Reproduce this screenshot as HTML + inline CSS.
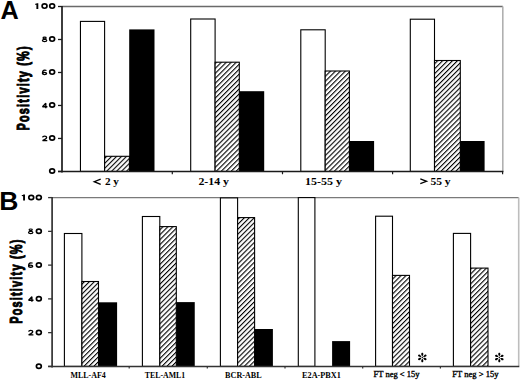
<!DOCTYPE html>
<html><head><meta charset="utf-8"><style>
html,body{margin:0;padding:0;background:#fff;width:520px;height:380px;overflow:hidden;}
svg{display:block;}
</style></head><body>
<svg width="520" height="380" viewBox="0 0 520 380">
<defs><pattern id="hA0" patternUnits="userSpaceOnUse" width="3.5" height="3.5" patternTransform="translate(-0.01,0) rotate(45)"><rect width="3.5" height="3.5" fill="#fff"/><rect x="0" y="0" width="1.1" height="3.5" fill="#000"/></pattern><pattern id="hA1" patternUnits="userSpaceOnUse" width="3.5" height="3.5" patternTransform="translate(0.7,0) rotate(45)"><rect width="3.5" height="3.5" fill="#fff"/><rect x="0" y="0" width="1.1" height="3.5" fill="#000"/></pattern><pattern id="hA2" patternUnits="userSpaceOnUse" width="3.5" height="3.5" patternTransform="translate(-0.1,0) rotate(45)"><rect width="3.5" height="3.5" fill="#fff"/><rect x="0" y="0" width="1.1" height="3.5" fill="#000"/></pattern><pattern id="hA3" patternUnits="userSpaceOnUse" width="3.5" height="3.5" patternTransform="translate(2.62,0) rotate(45)"><rect width="3.5" height="3.5" fill="#fff"/><rect x="0" y="0" width="1.1" height="3.5" fill="#000"/></pattern><pattern id="hB0" patternUnits="userSpaceOnUse" width="3.5" height="3.5" patternTransform="translate(4.02,0) rotate(45)"><rect width="3.5" height="3.5" fill="#fff"/><rect x="0" y="0" width="1.1" height="3.5" fill="#000"/></pattern><pattern id="hB1" patternUnits="userSpaceOnUse" width="3.5" height="3.5" patternTransform="translate(2.82,0) rotate(45)"><rect width="3.5" height="3.5" fill="#fff"/><rect x="0" y="0" width="1.1" height="3.5" fill="#000"/></pattern><pattern id="hB2" patternUnits="userSpaceOnUse" width="3.5" height="3.5" patternTransform="translate(1.02,0) rotate(45)"><rect width="3.5" height="3.5" fill="#fff"/><rect x="0" y="0" width="1.1" height="3.5" fill="#000"/></pattern><pattern id="hB4" patternUnits="userSpaceOnUse" width="3.5" height="3.5" patternTransform="translate(2.67,0) rotate(45)"><rect width="3.5" height="3.5" fill="#fff"/><rect x="0" y="0" width="1.1" height="3.5" fill="#000"/></pattern><pattern id="hB5" patternUnits="userSpaceOnUse" width="3.5" height="3.5" patternTransform="translate(1.37,0) rotate(45)"><rect width="3.5" height="3.5" fill="#fff"/><rect x="0" y="0" width="1.1" height="3.5" fill="#000"/></pattern></defs>
<rect width="520" height="380" fill="#fff"/>
<line x1="62" y1="6.5" x2="502.8" y2="6.5" stroke="#6a6a6a" stroke-width="1.3"/>
<line x1="502.8" y1="6.5" x2="502.8" y2="171.45" stroke="#b0b0b0" stroke-width="1.6"/>
<rect x="80.45" y="21.4" width="24.15" height="150.05" fill="#fff" stroke="#000" stroke-width="1.1"/>
<rect x="104.6" y="156.3" width="24.8" height="15.15" fill="url(#hA0)" stroke="#000" stroke-width="1.1"/>
<rect x="129.2" y="29.4" width="25.3" height="142.55" fill="#000"/>
<rect x="190.7" y="19" width="24.4" height="152.45" fill="#fff" stroke="#000" stroke-width="1.1"/>
<rect x="215.1" y="62.2" width="24.2" height="109.25" fill="url(#hA1)" stroke="#000" stroke-width="1.1"/>
<rect x="239.2" y="91.2" width="25" height="80.75" fill="#000"/>
<rect x="300.8" y="29.8" width="24.4" height="141.65" fill="#fff" stroke="#000" stroke-width="1.1"/>
<rect x="325.2" y="71" width="24.2" height="100.45" fill="url(#hA2)" stroke="#000" stroke-width="1.1"/>
<rect x="349.2" y="141" width="24.9" height="30.95" fill="#000"/>
<rect x="410.3" y="19.2" width="24.2" height="152.25" fill="#fff" stroke="#000" stroke-width="1.1"/>
<rect x="434.5" y="60.5" width="25.8" height="110.95" fill="url(#hA3)" stroke="#000" stroke-width="1.1"/>
<rect x="460.1" y="141" width="24.5" height="30.95" fill="#000"/>
<line x1="62" y1="5.9" x2="62" y2="172.45" stroke="#1a1a1a" stroke-width="1.7"/>
<line x1="58" y1="171.45" x2="503.4" y2="171.45" stroke="#1a1a1a" stroke-width="1.5"/>
<line x1="58" y1="171.45" x2="62" y2="171.45" stroke="#1a1a1a" stroke-width="1.3"/>
<line x1="58" y1="138.46" x2="62" y2="138.46" stroke="#1a1a1a" stroke-width="1.3"/>
<line x1="58" y1="105.47" x2="62" y2="105.47" stroke="#1a1a1a" stroke-width="1.3"/>
<line x1="58" y1="72.48" x2="62" y2="72.48" stroke="#1a1a1a" stroke-width="1.3"/>
<line x1="58" y1="39.49" x2="62" y2="39.49" stroke="#1a1a1a" stroke-width="1.3"/>
<line x1="58" y1="6.5" x2="62" y2="6.5" stroke="#1a1a1a" stroke-width="1.3"/>
<line x1="172.3" y1="171.45" x2="172.3" y2="174.25" stroke="#1a1a1a" stroke-width="1.2"/>
<line x1="282.5" y1="171.45" x2="282.5" y2="174.25" stroke="#1a1a1a" stroke-width="1.2"/>
<line x1="392.6" y1="171.45" x2="392.6" y2="174.25" stroke="#1a1a1a" stroke-width="1.2"/>
<line x1="502.6" y1="171.45" x2="502.6" y2="174.25" stroke="#1a1a1a" stroke-width="1.2"/>
<ellipse cx="52.15" cy="171.05" rx="2.45" ry="2.15" fill="none" stroke="#000" stroke-width="1.7"/>
<ellipse cx="52.15" cy="138.06" rx="2.45" ry="2.15" fill="none" stroke="#000" stroke-width="1.7"/>
<g transform="translate(41.8,135.41)" fill="none" stroke="#000" stroke-width="1.35"><path d="M0.75,2.0 C0.9,1.1 1.7,0.67 2.8,0.67 C4.0,0.67 4.85,1.2 4.85,2.0 C4.85,2.9 4.0,3.4 3.0,4.0 L0.75,5.15 H5.5" stroke-linejoin="miter"/></g>
<ellipse cx="52.15" cy="105.07" rx="2.45" ry="2.15" fill="none" stroke="#000" stroke-width="1.7"/>
<g transform="translate(41.8,102.42)" fill="none" stroke="#000" stroke-width="1.35"><path d="M4.0,5.8 V0.9 L0.7,4.35 H5.6" stroke-linejoin="miter" stroke-miterlimit="1.5"/></g>
<ellipse cx="52.15" cy="72.08" rx="2.45" ry="2.15" fill="none" stroke="#000" stroke-width="1.7"/>
<g transform="translate(41.8,69.43)" fill="none" stroke="#000" stroke-width="1.35"><ellipse cx="2.75" cy="4.0" rx="2.05" ry="1.12"/><path d="M4.7,1.1 C4.1,0.7 3.4,0.62 2.8,0.68 C1.4,0.8 0.7,2.2 0.7,4.0"/></g>
<ellipse cx="52.15" cy="39.09" rx="2.45" ry="2.15" fill="none" stroke="#000" stroke-width="1.7"/>
<g transform="translate(41.8,36.44)" fill="none" stroke="#000" stroke-width="1.35"><g stroke-width="1.2"><ellipse cx="2.8" cy="1.45" rx="1.6" ry="0.85"/><ellipse cx="2.8" cy="4.05" rx="2.2" ry="1.15"/></g></g>
<ellipse cx="52.15" cy="6.1" rx="2.45" ry="2.15" fill="none" stroke="#000" stroke-width="1.7"/>
<ellipse cx="44.55" cy="6.1" rx="2.45" ry="2.15" fill="none" stroke="#000" stroke-width="1.7"/>
<path d="M36.4,3.2 H38.3 V9 H36.4 Z M35.1,3.7 L36.5,3.2 L36.5,4.8 L35.1,4.7 Z" fill="#000"/>
<line x1="52.1" y1="197.6" x2="518.7" y2="197.6" stroke="#7a7a7a" stroke-width="1.3"/>
<line x1="518.7" y1="197.6" x2="518.7" y2="366.4" stroke="#bdbdbd" stroke-width="1.6"/>
<rect x="64.4" y="233.5" width="17.5" height="132.9" fill="#fff" stroke="#000" stroke-width="1.1"/>
<rect x="81.9" y="281.5" width="16.6" height="84.9" fill="url(#hB0)" stroke="#000" stroke-width="1.1"/>
<rect x="98.4" y="302.3" width="18.7" height="64.6" fill="#000"/>
<rect x="142.4" y="216.5" width="17.4" height="149.9" fill="#fff" stroke="#000" stroke-width="1.1"/>
<rect x="159.8" y="226.6" width="16.5" height="139.8" fill="url(#hB1)" stroke="#000" stroke-width="1.1"/>
<rect x="176.3" y="302.1" width="18.45" height="64.8" fill="#000"/>
<rect x="220.4" y="197.9" width="17.2" height="168.5" fill="#fff" stroke="#000" stroke-width="1.1"/>
<rect x="237.6" y="217.6" width="17" height="148.8" fill="url(#hB2)" stroke="#000" stroke-width="1.1"/>
<rect x="254.5" y="329" width="18.4" height="37.9" fill="#000"/>
<rect x="298.3" y="197.6" width="16.6" height="168.8" fill="#fff" stroke="#000" stroke-width="1.1"/>
<rect x="332.1" y="341.1" width="18" height="25.8" fill="#000"/>
<rect x="375.6" y="216.2" width="16.9" height="150.2" fill="#fff" stroke="#000" stroke-width="1.1"/>
<rect x="392.5" y="275.4" width="17" height="91" fill="url(#hB4)" stroke="#000" stroke-width="1.1"/>
<rect x="453.4" y="233.4" width="17.2" height="133" fill="#fff" stroke="#000" stroke-width="1.1"/>
<rect x="470.6" y="268.1" width="17.4" height="98.3" fill="url(#hB5)" stroke="#000" stroke-width="1.1"/>
<line x1="52.1" y1="197" x2="52.1" y2="367.4" stroke="#333" stroke-width="1.7"/>
<line x1="48.1" y1="366.4" x2="519.3" y2="366.4" stroke="#333" stroke-width="1.5"/>
<line x1="48.1" y1="366.4" x2="52.1" y2="366.4" stroke="#333" stroke-width="1.3"/>
<line x1="48.1" y1="332.64" x2="52.1" y2="332.64" stroke="#333" stroke-width="1.3"/>
<line x1="48.1" y1="298.88" x2="52.1" y2="298.88" stroke="#333" stroke-width="1.3"/>
<line x1="48.1" y1="265.12" x2="52.1" y2="265.12" stroke="#333" stroke-width="1.3"/>
<line x1="48.1" y1="231.36" x2="52.1" y2="231.36" stroke="#333" stroke-width="1.3"/>
<line x1="48.1" y1="197.6" x2="52.1" y2="197.6" stroke="#333" stroke-width="1.3"/>
<line x1="129.2" y1="366.4" x2="129.2" y2="368.6" stroke="#333" stroke-width="1.2"/>
<line x1="207.3" y1="366.4" x2="207.3" y2="368.6" stroke="#333" stroke-width="1.2"/>
<line x1="285" y1="366.4" x2="285" y2="368.6" stroke="#333" stroke-width="1.2"/>
<line x1="362.7" y1="366.4" x2="362.7" y2="368.6" stroke="#333" stroke-width="1.2"/>
<line x1="440.4" y1="366.4" x2="440.4" y2="368.6" stroke="#333" stroke-width="1.2"/>
<ellipse cx="38.85" cy="366.3" rx="2.45" ry="2.15" fill="none" stroke="#000" stroke-width="1.7"/>
<ellipse cx="38.85" cy="332.54" rx="2.45" ry="2.15" fill="none" stroke="#000" stroke-width="1.7"/>
<g transform="translate(27.9,329.69)" fill="none" stroke="#000" stroke-width="1.35"><path d="M0.75,2.0 C0.9,1.1 1.7,0.67 2.8,0.67 C4.0,0.67 4.85,1.2 4.85,2.0 C4.85,2.9 4.0,3.4 3.0,4.0 L0.75,5.15 H5.5" stroke-linejoin="miter"/></g>
<ellipse cx="38.85" cy="298.78" rx="2.45" ry="2.15" fill="none" stroke="#000" stroke-width="1.7"/>
<g transform="translate(27.9,295.93)" fill="none" stroke="#000" stroke-width="1.35"><path d="M4.0,5.8 V0.9 L0.7,4.35 H5.6" stroke-linejoin="miter" stroke-miterlimit="1.5"/></g>
<ellipse cx="38.85" cy="265.02" rx="2.45" ry="2.15" fill="none" stroke="#000" stroke-width="1.7"/>
<g transform="translate(27.9,262.17)" fill="none" stroke="#000" stroke-width="1.35"><ellipse cx="2.75" cy="4.0" rx="2.05" ry="1.12"/><path d="M4.7,1.1 C4.1,0.7 3.4,0.62 2.8,0.68 C1.4,0.8 0.7,2.2 0.7,4.0"/></g>
<ellipse cx="38.85" cy="231.26" rx="2.45" ry="2.15" fill="none" stroke="#000" stroke-width="1.7"/>
<g transform="translate(27.9,228.41)" fill="none" stroke="#000" stroke-width="1.35"><g stroke-width="1.2"><ellipse cx="2.8" cy="1.45" rx="1.6" ry="0.85"/><ellipse cx="2.8" cy="4.05" rx="2.2" ry="1.15"/></g></g>
<ellipse cx="38.85" cy="197.5" rx="2.45" ry="2.15" fill="none" stroke="#000" stroke-width="1.7"/>
<ellipse cx="31.25" cy="197.5" rx="2.45" ry="2.15" fill="none" stroke="#000" stroke-width="1.7"/>
<path d="M23.1,194.6 H25 V200.4 H23.1 Z M21.8,195.1 L23.2,194.6 L23.2,196.2 L21.8,196.1 Z" fill="#000"/>
<text x="0" y="0" transform="translate(0.55,19.35) scale(0.95,1)" font-family="'Liberation Sans', sans-serif" font-weight="bold" font-size="26.6">A</text>
<text x="-0.8" y="210.4" font-family="'Liberation Sans', sans-serif" font-weight="bold" font-size="26.5">B</text>
<text x="0" y="0" transform="translate(28.5,130.5) rotate(-90) scale(0.68,1)" font-family="'Liberation Sans', sans-serif" font-weight="bold" font-size="16" letter-spacing="1.79" stroke="#000" stroke-width="1.0">Positivity (%)</text>
<text x="0" y="0" transform="translate(21.5,323.8) rotate(-90) scale(0.68,1)" font-family="'Liberation Sans', sans-serif" font-weight="bold" font-size="16" letter-spacing="1.79" stroke="#000" stroke-width="1.0">Positivity (%)</text>
<text x="104.9" y="185.3" font-family="'Liberation Serif', serif" font-weight="bold" font-size="11" textLength="14" lengthAdjust="spacingAndGlyphs">2 y</text>
<text x="198.4" y="185.1" font-family="'Liberation Serif', serif" font-weight="bold" font-size="11" textLength="30.6" lengthAdjust="spacingAndGlyphs">2-14 y</text>
<text x="305" y="184.8" font-family="'Liberation Serif', serif" font-weight="bold" font-size="11" textLength="37" lengthAdjust="spacingAndGlyphs">15-55 y</text>
<text x="430.4" y="184.8" font-family="'Liberation Serif', serif" font-weight="bold" font-size="11" textLength="20.2" lengthAdjust="spacingAndGlyphs">55 y</text>
<polyline points="100.7,179.2 94.2,181.7 100.7,184.3" fill="none" stroke="#000" stroke-width="1.25" stroke-linejoin="miter" stroke-miterlimit="10"/>
<polyline points="420.3,178.9 426.6,181.3 420.3,183.7" fill="none" stroke="#000" stroke-width="1.25" stroke-linejoin="miter" stroke-miterlimit="10"/>
<text x="70.5" y="378" font-family="'Liberation Serif', serif" font-weight="bold" font-size="8.2" textLength="35.3" lengthAdjust="spacingAndGlyphs">MLL-AF4</text>
<text x="144.8" y="377.9" font-family="'Liberation Serif', serif" font-weight="bold" font-size="8.2" textLength="40.4" lengthAdjust="spacingAndGlyphs">TEL-AML1</text>
<text x="225.1" y="377.9" font-family="'Liberation Serif', serif" font-weight="bold" font-size="8.2" textLength="36.6" lengthAdjust="spacingAndGlyphs">BCR-ABL</text>
<text x="302.1" y="377.8" font-family="'Liberation Serif', serif" font-weight="bold" font-size="8.2" textLength="38.8" lengthAdjust="spacingAndGlyphs">E2A-PBX1</text>
<text x="373.5" y="377" font-family="'Liberation Serif', serif" font-weight="normal" stroke="#000" stroke-width="0.35" font-size="8.6" textLength="46.1" lengthAdjust="spacingAndGlyphs">FT neg &lt; 15y</text>
<text x="452.3" y="377" font-family="'Liberation Serif', serif" font-weight="normal" stroke="#000" stroke-width="0.35" font-size="8.6" textLength="46.2" lengthAdjust="spacingAndGlyphs">FT neg &gt; 15y</text>
<g transform="translate(422.3,357.4)"><path d="M0,-1.0 C-0.45,-1.7 -1.1,-2.6 -1.05,-3.5 C-1.0,-4.35 -0.55,-4.75 0,-4.75 C0.55,-4.75 1.0,-4.35 1.05,-3.5 C1.1,-2.6 0.45,-1.7 0,-1.0 Z" transform="rotate(0)" fill="#000"/><path d="M0,-1.0 C-0.45,-1.7 -1.1,-2.6 -1.05,-3.5 C-1.0,-4.35 -0.55,-4.75 0,-4.75 C0.55,-4.75 1.0,-4.35 1.05,-3.5 C1.1,-2.6 0.45,-1.7 0,-1.0 Z" transform="rotate(60)" fill="#000"/><path d="M0,-1.0 C-0.45,-1.7 -1.1,-2.6 -1.05,-3.5 C-1.0,-4.35 -0.55,-4.75 0,-4.75 C0.55,-4.75 1.0,-4.35 1.05,-3.5 C1.1,-2.6 0.45,-1.7 0,-1.0 Z" transform="rotate(120)" fill="#000"/><path d="M0,-1.0 C-0.45,-1.7 -1.1,-2.6 -1.05,-3.5 C-1.0,-4.35 -0.55,-4.75 0,-4.75 C0.55,-4.75 1.0,-4.35 1.05,-3.5 C1.1,-2.6 0.45,-1.7 0,-1.0 Z" transform="rotate(180)" fill="#000"/><path d="M0,-1.0 C-0.45,-1.7 -1.1,-2.6 -1.05,-3.5 C-1.0,-4.35 -0.55,-4.75 0,-4.75 C0.55,-4.75 1.0,-4.35 1.05,-3.5 C1.1,-2.6 0.45,-1.7 0,-1.0 Z" transform="rotate(240)" fill="#000"/><path d="M0,-1.0 C-0.45,-1.7 -1.1,-2.6 -1.05,-3.5 C-1.0,-4.35 -0.55,-4.75 0,-4.75 C0.55,-4.75 1.0,-4.35 1.05,-3.5 C1.1,-2.6 0.45,-1.7 0,-1.0 Z" transform="rotate(300)" fill="#000"/><circle r="0.7" fill="#000"/></g>
<g transform="translate(499.3,357.5)"><path d="M0,-1.0 C-0.45,-1.7 -1.1,-2.6 -1.05,-3.5 C-1.0,-4.35 -0.55,-4.75 0,-4.75 C0.55,-4.75 1.0,-4.35 1.05,-3.5 C1.1,-2.6 0.45,-1.7 0,-1.0 Z" transform="rotate(0)" fill="#000"/><path d="M0,-1.0 C-0.45,-1.7 -1.1,-2.6 -1.05,-3.5 C-1.0,-4.35 -0.55,-4.75 0,-4.75 C0.55,-4.75 1.0,-4.35 1.05,-3.5 C1.1,-2.6 0.45,-1.7 0,-1.0 Z" transform="rotate(60)" fill="#000"/><path d="M0,-1.0 C-0.45,-1.7 -1.1,-2.6 -1.05,-3.5 C-1.0,-4.35 -0.55,-4.75 0,-4.75 C0.55,-4.75 1.0,-4.35 1.05,-3.5 C1.1,-2.6 0.45,-1.7 0,-1.0 Z" transform="rotate(120)" fill="#000"/><path d="M0,-1.0 C-0.45,-1.7 -1.1,-2.6 -1.05,-3.5 C-1.0,-4.35 -0.55,-4.75 0,-4.75 C0.55,-4.75 1.0,-4.35 1.05,-3.5 C1.1,-2.6 0.45,-1.7 0,-1.0 Z" transform="rotate(180)" fill="#000"/><path d="M0,-1.0 C-0.45,-1.7 -1.1,-2.6 -1.05,-3.5 C-1.0,-4.35 -0.55,-4.75 0,-4.75 C0.55,-4.75 1.0,-4.35 1.05,-3.5 C1.1,-2.6 0.45,-1.7 0,-1.0 Z" transform="rotate(240)" fill="#000"/><path d="M0,-1.0 C-0.45,-1.7 -1.1,-2.6 -1.05,-3.5 C-1.0,-4.35 -0.55,-4.75 0,-4.75 C0.55,-4.75 1.0,-4.35 1.05,-3.5 C1.1,-2.6 0.45,-1.7 0,-1.0 Z" transform="rotate(300)" fill="#000"/><circle r="0.7" fill="#000"/></g>
</svg>
</body></html>
